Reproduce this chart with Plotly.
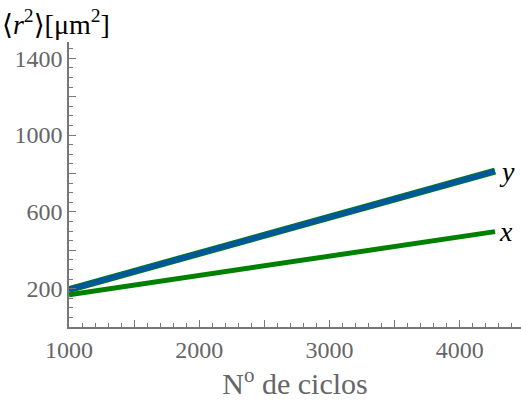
import plotly.graph_objects as go

ciclos = [1000, 4270]
r2_x = [168, 497]
r2_y = [195, 812]

y_ticks = [0, 200, 400, 600, 800, 1000, 1200, 1400]
y_labels = ["", "200", "", "600", "", "1000", "", "1400"]
x_ticks = [1000, 1500, 2000, 2500, 3000, 3500, 4000]
x_labels = ["1000", "", "2000", "", "3000", "", "4000"]

serif = "Liberation Serif, DejaVu Serif, serif"
axcol = "#777777"

fig = go.Figure()
fig.add_trace(go.Scatter(x=ciclos, y=r2_x, mode="lines",
                         line=dict(color="#008000", width=5), showlegend=False))
fig.add_trace(go.Scatter(x=ciclos, y=r2_y, mode="lines",
                         line=dict(color="#008000", width=7), showlegend=False))
fig.add_trace(go.Scatter(x=ciclos, y=r2_y, mode="lines",
                         line=dict(color="#00579a", width=5.5), showlegend=False))

fig.add_annotation(x=ciclos[-1], y=r2_y[-1], text="<i>y</i>", showarrow=False,
                   xanchor="left", yanchor="middle", xshift=2,
                   font=dict(family=serif, size=28, color="black"))
fig.add_annotation(x=ciclos[-1], y=r2_x[-1], text="<i>x</i>", showarrow=False,
                   xanchor="left", yanchor="middle", xshift=2,
                   font=dict(family=serif, size=28, color="black"))
fig.add_annotation(x=0, y=1, xref="paper", yref="paper", xanchor="left", yanchor="bottom",
                   xshift=-69, yshift=0,
                   text="⟨<i>r</i><sup>2</sup>⟩[μm<sup>2</sup>]", showarrow=False,
                   font=dict(family=serif, size=28, color="black"))

fig.update_layout(
    width=521, height=403,
    margin=dict(l=69, r=0, t=42, b=76),
    plot_bgcolor="white", paper_bgcolor="white",
    xaxis=dict(range=[1000, 4470], showgrid=False, zeroline=False,
               showline=True, linecolor=axcol, linewidth=1.5,
               ticks="inside", ticklen=7, tickcolor=axcol, tickwidth=1,
               tickvals=x_ticks, ticktext=x_labels,
               minor=dict(dtick=100, ticklen=4, tickcolor=axcol, ticks="inside"),
               tickfont=dict(family=serif, size=24, color="#666666"),
               title=dict(text="N<sup>o</sup> de ciclos", standoff=6,
                          font=dict(family=serif, size=30, color="#666666"))),
    yaxis=dict(range=[0, 1485], showgrid=False, zeroline=False,
               showline=True, linecolor=axcol, linewidth=1.5,
               ticks="inside", ticklen=7, tickcolor=axcol, tickwidth=1,
               tickvals=y_ticks, ticktext=y_labels,
               minor=dict(dtick=50, ticklen=4, tickcolor=axcol, ticks="inside"),
               tickfont=dict(family=serif, size=24, color="#666666")),
)

fig.write_html("out.html")
